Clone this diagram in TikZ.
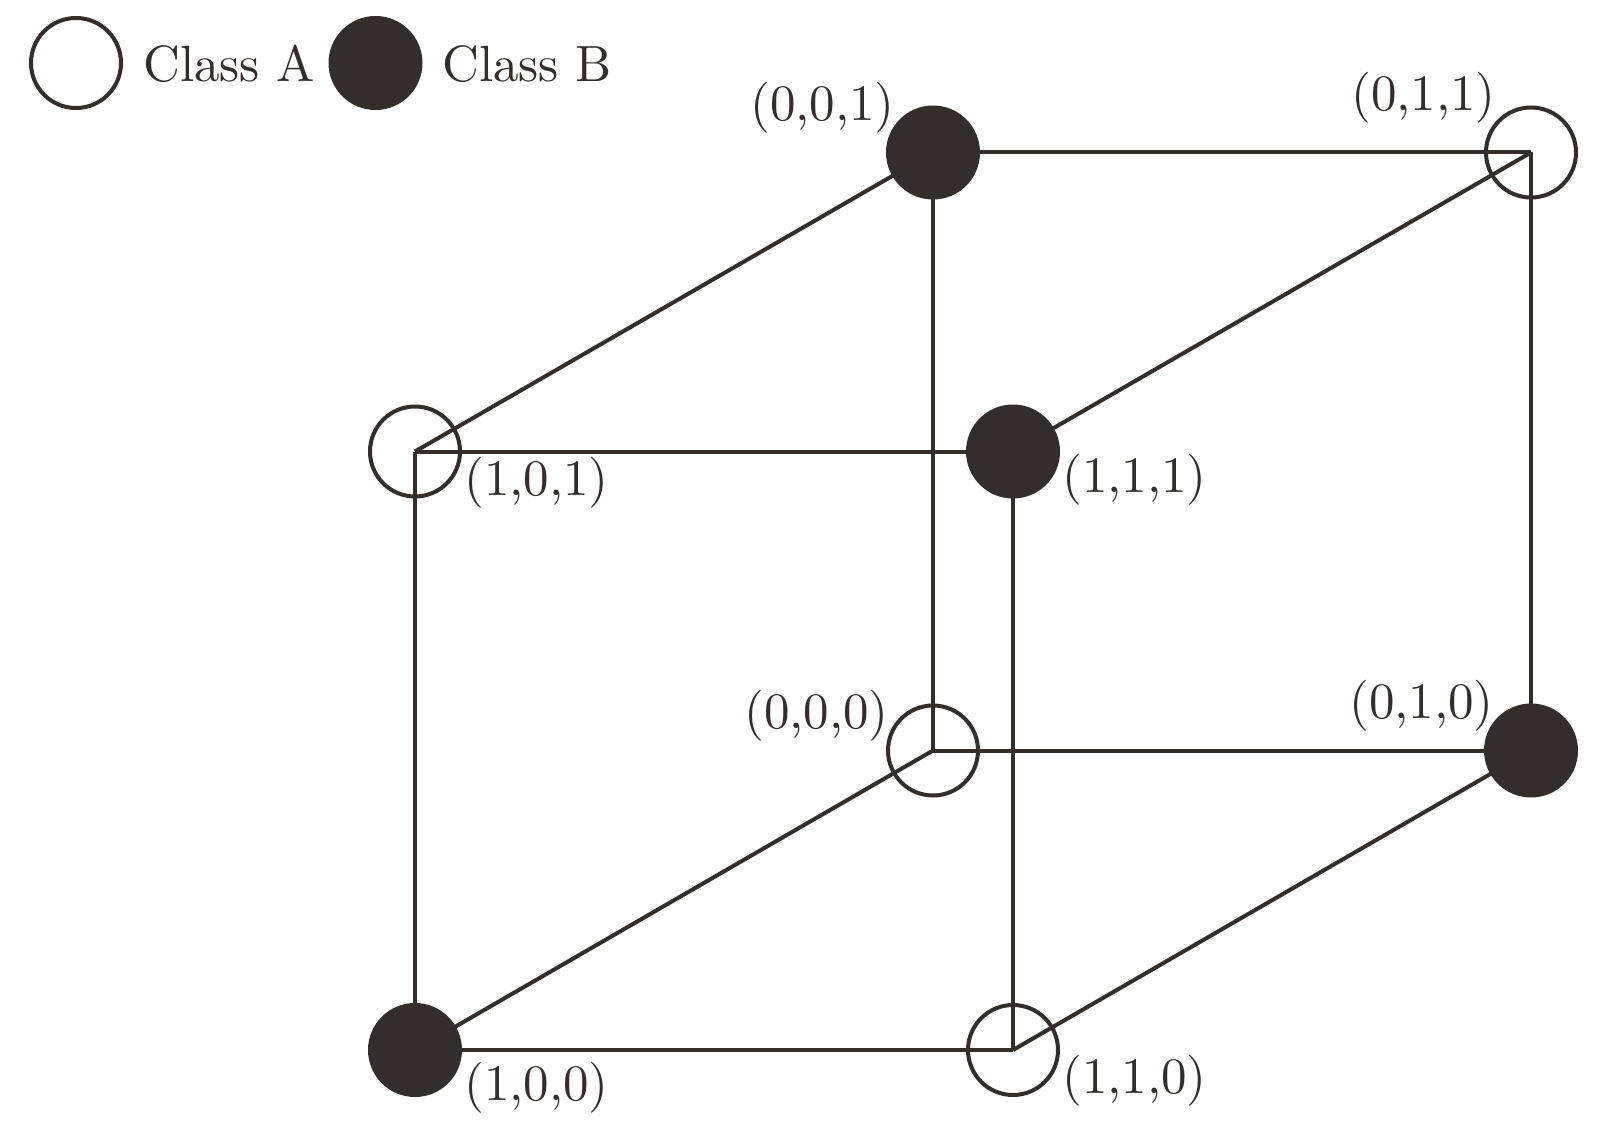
\documentclass[tikz,border=0pt]{standalone}
\definecolor{ink}{RGB}{51,46,43}
\font\lblfont=[lmroman10-regular.otf] at 51pt
\begin{document}
\begin{tikzpicture}[x=1pt,y=-1pt,
  edge/.style={draw=ink,line width=4pt},
  classa/.style={circle,draw=ink,line width=4pt,minimum size=90pt,inner sep=0pt},
  classb/.style={circle,draw=ink,fill=ink,line width=4pt,minimum size=90pt,inner sep=0pt},
  lbl/.style={inner sep=0pt,text=ink,font=\lblfont}]
\useasboundingbox (0,0) rectangle (1606,1129);
% vertices
\coordinate (p001) at (933,152.5);
\coordinate (p011) at (1531,152.5);
\coordinate (p101) at (415,451.5);
\coordinate (p111) at (1013,451.5);
\coordinate (p000) at (933,750.5);
\coordinate (p010) at (1531,750.5);
\coordinate (p100) at (415,1050);
\coordinate (p110) at (1013,1050);
% edges
\draw[edge] (p001) -- (p011);
\draw[edge] (p001) -- (p101);
\draw[edge] (p001) -- (p000);
\draw[edge] (p011) -- (p111);
\draw[edge] (p011) -- (p010);
\draw[edge] (p101) -- (p111);
\draw[edge] (p101) -- (p100);
\draw[edge] (p111) -- (p110);
\draw[edge] (p000) -- (p010);
\draw[edge] (p000) -- (p100);
\draw[edge] (p010) -- (p110);
\draw[edge] (p100) -- (p110);
% vertex markers
\node[classb] (n001) at (p001) {};
\node[classa] (n011) at (p011) {};
\node[classa] (n101) at (p101) {};
\node[classb] (n111) at (p111) {};
\node[classa] (n000) at (p000) {};
\node[classb] (n010) at (p010) {};
\node[classb] (n100) at (p100) {};
\node[classa] (n110) at (p110) {};
% labels
\node[lbl,anchor=south east] (l001) at (895,133) {(0,0,1)};
\node[lbl,anchor=south east] (l011) at (1496,123) {(0,1,1)};
\node[lbl,anchor=south east] (l000) at (889,741) {(0,0,0)};
\node[lbl,anchor=south east] (l010) at (1494,731) {(0,1,0)};
\node[lbl,anchor=north west] (l101) at (464,457) {(1,0,1)};
\node[lbl,anchor=north west] (l111) at (1062,454) {(1,1,1)};
\node[lbl,anchor=north west] (l100) at (464,1062) {(1,0,0)};
\node[lbl,anchor=north west] (l110) at (1062,1055) {(1,1,0)};
% legend
\node[classa] (lega) at (76,63) {};
\node[lbl,anchor=base west] (lta) at (143,82) {Class A};
\node[classb] (legb) at (375.5,63) {};
\node[lbl,anchor=base west] (ltb) at (442,82) {Class B};
\end{tikzpicture}
\end{document}
